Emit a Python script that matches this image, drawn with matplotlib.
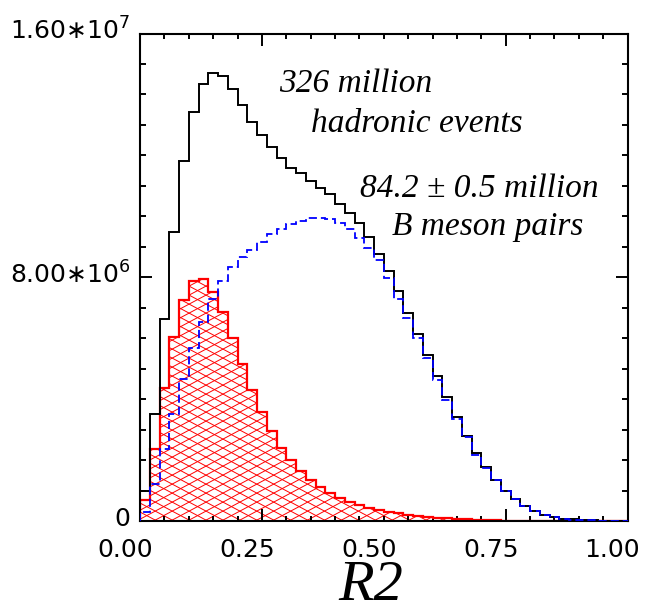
import numpy as np
import matplotlib
matplotlib.use("Agg")
import matplotlib.pyplot as plt
from matplotlib.collections import LineCollection
from matplotlib.transforms import ScaledTranslation

# bin edges of R2 (50 bins of 0.02)
edges = np.linspace(0.0, 1.0, 51)

# all hadronic events (units of 1e6)
hadronic = [1.0, 3.51, 6.62, 9.48, 11.81, 13.42, 14.34, 14.69, 14.6, 14.18,
            13.66, 13.1, 12.66, 12.26, 11.9, 11.6, 11.41, 11.16, 10.94, 10.72,
            10.4, 10.1, 9.78, 9.32, 8.77, 8.19, 7.54, 6.84, 6.15, 5.45,
            4.75, 4.06, 3.40, 2.80, 2.22, 1.77, 1.35, 0.99, 0.73, 0.49,
            0.33, 0.21, 0.13, 0.08, 0.05, 0.03, 0.02, 0.01, 0.01, 0.0]

# continuum (blue dashed)
continuum = [0.28, 1.2, 2.35, 3.5, 4.65, 5.67, 6.54, 7.28, 7.88, 8.33,
             8.65, 8.89, 9.17, 9.43, 9.59, 9.75, 9.86, 9.95, 9.95, 9.9,
             9.77, 9.58, 9.28, 8.95, 8.57, 7.97, 7.29, 6.65, 6.02, 5.34,
             4.63, 3.97, 3.35, 2.75, 2.18, 1.74, 1.33, 0.97, 0.71, 0.48,
             0.32, 0.2, 0.12, 0.08, 0.04, 0.03, 0.02, 0.01, 0.005, 0.0]

# B meson pairs (red hatched)
bmeson = [0.68, 2.35, 4.35, 6.05, 7.25, 7.89, 7.93, 7.53, 6.87, 6.02,
          5.14, 4.3, 3.58, 2.95, 2.4, 2.0, 1.65, 1.36, 1.12, 0.93,
          0.75, 0.62, 0.52, 0.44, 0.36, 0.3, 0.25, 0.21, 0.17, 0.14,
          0.11, 0.09, 0.07, 0.05, 0.04, 0.03, 0.02, 0.015, 0.01, 0.01,
          0.005, 0.005, 0.0, 0.0, 0.0, 0.0, 0.0, 0.0, 0.0, 0.0]

xticks = [0.0, 0.25, 0.5, 0.75, 1.0]
xticklabels = ["0.00", "0.25", "0.50", "0.75", "1.00"]
yticks = [0, 8.0e6, 1.6e7]
yticklabels = ["0", r"8.00$\ast$10$^{6}$", r"1.60$\ast$10$^{7}$"]

scale = 1e6
fig = plt.figure(figsize=(6.46, 6.14), dpi=100)
ax = fig.add_axes([140 / 646, 1 - 521 / 614, 487.5 / 646, 487.5 / 614])

# red B meson histogram with a custom cross hatch
red = ax.stairs(np.array(bmeson) * scale, edges, fill=True, facecolor="none",
                edgecolor="red", linewidth=1.6, zorder=2)
segs = []
s = np.tan(np.radians(28))
step = 9 / 487.5
for c in np.arange(-s, 1.0, step):
    segs.append([(0, c), (1, c + s)])
for c in np.arange(0, 1.0 + s, step):
    segs.append([(0, c), (1, c - s)])
lc = LineCollection(segs, colors="red", linewidths=0.7, transform=ax.transAxes, zorder=1)
ax.add_collection(lc)
lc.set_clip_path(red)

ax.stairs(np.array(hadronic) * scale, edges, color="black", linewidth=1.4, zorder=3)
ax.stairs(np.array(continuum) * scale, edges, color="blue", linewidth=1.3,
          linestyle=(0, (4.5, 2.2)), zorder=4)

ax.set_xlim(0, 1.0)
ax.set_ylim(0, 1.6e7)

ax.set_xticks(xticks)
ax.set_xticklabels(xticklabels)
ax.set_xticks(np.arange(0, 1.0001, 0.05), minor=True)
ax.set_yticks(yticks)
ax.set_yticklabels(yticklabels)
ax.set_yticks(np.arange(0, 1.6e7 + 1, 1e6), minor=True)

ax.tick_params(axis="both", which="both", direction="in", top=True, right=True,
               width=1.4, colors="black", labelsize=18)
ax.tick_params(axis="x", which="major", length=3.6, pad=12)
ax.tick_params(axis="x", which="minor", length=3.6)
ax.tick_params(axis="y", which="major", length=8.6, pad=7)
ax.tick_params(axis="y", which="minor", length=4.5)
# the long x ticks of the original sit at 0.25 and 0.75
for i, t in enumerate(ax.xaxis.get_major_ticks()):
    if i in (1, 3):
        t.tick1line.set_markersize(8.6)
        t.tick2line.set_markersize(8.6)

for lab in ax.get_xticklabels():
    lab.set_transform(lab.get_transform() + ScaledTranslation(-15 / 100, 0, fig.dpi_scale_trans))
for lab in ax.get_yticklabels():
    lab.set_transform(lab.get_transform() + ScaledTranslation(0, 5 / 100, fig.dpi_scale_trans))

for sp in ax.spines.values():
    sp.set_linewidth(1.5)

fig.text(371 / 646, 1 - 600 / 614, "R2", fontsize=42, family="Liberation Serif",
         style="italic", ha="center", va="baseline")

tfont = dict(fontsize=24, family="Liberation Serif", style="italic", transform=fig.transFigure)
fig.text(279 / 646, 1 - 92 / 614, "326 million", **tfont)
fig.text(311 / 646, 1 - 132 / 614, "hadronic events", **tfont)
fig.text(360 / 646, 1 - 197 / 614, "84.2 \u00b1 0.5 million", **tfont)
fig.text(392 / 646, 1 - 235 / 614, "B meson pairs", **tfont)

fig.savefig("out.png", dpi=100)
